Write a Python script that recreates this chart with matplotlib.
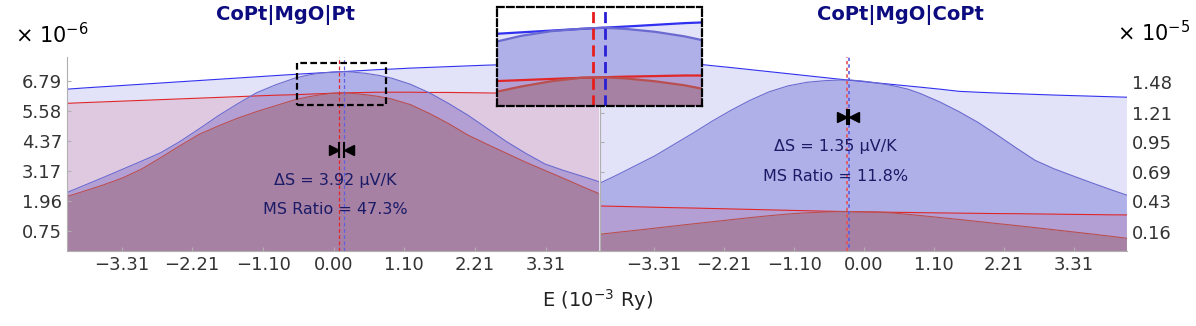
import matplotlib
matplotlib.use("Agg")
import matplotlib.pyplot as plt
from matplotlib.patches import Rectangle
from matplotlib import transforms

plt.rcParams["font.family"] = ["DejaVu Sans"]

# energy grid, 10^-3 Ry (same for both panels)
energy = [-4.17, -3.9, -3.6, -3.3, -3.0, -2.7, -2.4, -2.1, -1.8, -1.5, -1.2, -0.9, -0.6, -0.4,
          -0.2, 0.0, 0.15, 0.3, 0.5, 0.7, 0.9, 1.2, 1.5, 1.8, 2.1, 2.4, 2.7, 3.0, 3.3, 3.6,
          3.9, 4.14]

# CoPt|MgO|Pt, units of 1e-6
pt_blue_flat = [6.46, 6.51, 6.56, 6.61, 6.66, 6.71, 6.76, 6.81, 6.86, 6.91, 6.96, 7.01, 7.06, 7.09,
                7.12, 7.15, 7.17, 7.19, 7.22, 7.25, 7.27, 7.31, 7.34, 7.37, 7.40, 7.43, 7.45, 7.47,
                7.48, 7.49, 7.50, 7.50]
pt_red_flat = [5.89, 5.92, 5.95, 5.98, 6.01, 6.04, 6.07, 6.10, 6.13, 6.16, 6.19, 6.22, 6.24, 6.26,
               6.28, 6.30, 6.31, 6.32, 6.33, 6.34, 6.34, 6.34, 6.33, 6.33, 6.32, 6.31, 6.30, 6.30,
               6.30, 6.29, 6.29, 6.29]
pt_blue_peak = [2.29, 2.58, 2.90, 3.23, 3.56, 3.90, 4.35, 4.86, 5.39, 5.87, 6.32, 6.64, 6.91, 7.03,
                7.11, 7.15, 7.17, 7.15, 7.10, 7.02, 6.91, 6.66, 6.31, 5.88, 5.41, 4.88, 4.35, 3.88,
                3.45, 3.18, 2.94, 2.74]
pt_red_peak = [2.13, 2.35, 2.60, 2.88, 3.24, 3.70, 4.18, 4.64, 4.98, 5.29, 5.56, 5.80, 6.04, 6.15,
               6.24, 6.30, 6.31, 6.29, 6.24, 6.17, 6.07, 5.84, 5.48, 5.07, 4.61, 4.24, 3.88, 3.52,
               3.19, 2.86, 2.52, 2.26]

# CoPt|MgO|CoPt, units of 1e-5
copt_blue_flat = [1.72, 1.71, 1.69, 1.68, 1.66, 1.645, 1.627, 1.61, 1.592, 1.574, 1.556, 1.538, 1.52,
                  1.508, 1.497, 1.486, 1.477, 1.469, 1.458, 1.447, 1.436, 1.419, 1.40, 1.392, 1.385,
                  1.379, 1.373, 1.367, 1.362, 1.357, 1.352, 1.348]
copt_red_flat = [0.387, 0.384, 0.380, 0.376, 0.372, 0.369, 0.365, 0.361, 0.357, 0.353, 0.349, 0.345,
                 0.341, 0.339, 0.337, 0.335, 0.334, 0.333, 0.331, 0.330, 0.328, 0.326, 0.324, 0.322,
                 0.320, 0.319, 0.317, 0.315, 0.313, 0.311, 0.309, 0.308]
copt_blue_peak = [0.588, 0.66, 0.745, 0.83, 0.93, 1.03, 1.135, 1.232, 1.32, 1.395, 1.448, 1.480, 1.495,
                  1.499, 1.499, 1.489, 1.478, 1.465, 1.445, 1.418, 1.378, 1.305, 1.22, 1.125, 1.015,
                  0.90, 0.79, 0.715, 0.652, 0.59, 0.53, 0.484]
copt_red_peak = [0.137, 0.154, 0.172, 0.191, 0.210, 0.229, 0.247, 0.266, 0.284, 0.301, 0.316, 0.327,
                 0.334, 0.337, 0.338, 0.336, 0.334, 0.330, 0.323, 0.313, 0.302, 0.285, 0.268, 0.250,
                 0.232, 0.214, 0.196, 0.177, 0.158, 0.139, 0.119, 0.102]

xticks = [-3.31, -2.21, -1.10, 0.00, 1.10, 2.21, 3.31]
pt_yticks = [0.75, 1.96, 3.17, 4.37, 5.58, 6.79]
copt_yticks = [0.16, 0.43, 0.69, 0.95, 1.21, 1.48]

pt_peaks = [0.086, 0.164]        # red, blue
copt_peaks = [-0.27, -0.235]
pt_notes = ["\u0394S = 3.92 \u03bcV/K", "MS Ratio = 47.3%"]
copt_notes = ["\u0394S = 1.35 \u03bcV/K", "MS Ratio = 11.8%"]

navy = "#0c0c80"
txt = "#1a1a66"
gray = "#b0b0b0"


def draw(ax, bf, rf, bp, rp, lw):
    ax.fill_between(energy, -1, bf, color=(0.24, 0.24, 0.82), alpha=0.15, lw=0)
    ax.fill_between(energy, -1, bp, color=(0.24, 0.24, 0.78), alpha=0.3, lw=0)
    ax.fill_between(energy, -1, rf, color=(0.82, 0.25, 0.39), alpha=0.15, lw=0)
    ax.fill_between(energy, -1, rp, color=(0.54, 0.24, 0.20), alpha=0.3, lw=0)
    ax.plot(energy, bf, color="#3030f0", lw=lw)
    ax.plot(energy, rf, color="#e02626", lw=lw)
    ax.plot(energy, bp, color="#6a6ad0", lw=lw)
    ax.plot(energy, rp, color="#b85050", lw=lw)


def marker(ax, xs, y):
    lo, hi = min(xs), max(xs)
    ax.plot([lo, hi], [y, y], ls="none", marker="|", ms=11, mew=1.5, color="k", zorder=6)
    left = transforms.offset_copy(ax.transData, fig=fig, x=-3.4, units="points")
    right = transforms.offset_copy(ax.transData, fig=fig, x=3.4, units="points")
    ax.plot([lo], [y], marker=">", ms=7, color="k", transform=left, zorder=6)
    ax.plot([hi], [y], marker="<", ms=7, color="k", transform=right, zorder=6)


def style(ax):
    for s in ["top", "right"]:
        ax.spines[s].set_visible(False)
    for s in ["left", "bottom"]:
        ax.spines[s].set_color(gray)
        ax.spines[s].set_linewidth(0.8)
    ax.tick_params(direction="in", length=3, color=gray, labelcolor="#333333", labelsize=13)
    ax.set_xticks(xticks)
    ax.set_xticklabels([f"{t:.2f}".replace("-", "\u2212") for t in xticks])
    ax.set_xlim(-4.165, 4.145)


fig = plt.figure(figsize=(11.96, 3.26), dpi=100)

ax1 = fig.add_axes([0.0558, 0.2301, 0.4451, 0.5960])
draw(ax1, pt_blue_flat, pt_red_flat, pt_blue_peak, pt_red_peak, 0.8)
style(ax1)
ax1.set_ylim(-0.055, 7.77)
ax1.set_yticks(pt_yticks)
ax1.set_yticklabels([f"{t:.2f}" for t in pt_yticks])
ax1.axvline(pt_peaks[0], color="#e02626", lw=0.9, ls=(0, (3, 2)))
ax1.axvline(pt_peaks[1], color="#6060e0", lw=0.9, ls=(0, (3, 2)))
marker(ax1, pt_peaks, 4.01)
ax1.text(0.02, 2.80, pt_notes[0], ha="center", va="center", fontsize=11.5, color=txt)
ax1.text(0.02, 1.60, pt_notes[1], ha="center", va="center", fontsize=11.5, color=txt)

# zoom window
zx = (-0.567, 0.82)
zy = (5.81, 7.535)
ax1.add_patch(Rectangle((zx[0], zy[0]), zx[1] - zx[0], zy[1] - zy[0], fill=False,
                        ec="k", lw=1.6, ls=(0, (3, 1.5)), zorder=7))

ax2 = fig.add_axes([0.5017, 0.2301, 0.4404, 0.5960])
draw(ax2, copt_blue_flat, copt_red_flat, copt_blue_peak, copt_red_peak, 0.8)
style(ax2)
ax2.set_ylim(-0.0105, 1.706)
ax2.set_yticks(copt_yticks)
ax2.set_yticklabels([f"{t:.2f}" for t in copt_yticks])
ax2.tick_params(axis="y", left=True, right=False, labelleft=False, labelright=True)
ax2.axvline(copt_peaks[0], color="#e85050", lw=1.2, ls=(0, (2, 2)))
ax2.axvline(copt_peaks[1], color="#5a5ae0", lw=1.2, ls=(2, (2, 2)))
marker(ax2, copt_peaks, 1.176)
ax2.text(-0.456, 0.911, copt_notes[0], ha="center", va="center", fontsize=11.5, color=txt)
ax2.text(-0.456, 0.646, copt_notes[1], ha="center", va="center", fontsize=11.5, color=txt)

# inset
ax3 = fig.add_axes([0.4153, 0.6748, 0.1719, 0.3046])
ax3.set_facecolor("white")
draw(ax3, pt_blue_flat, pt_red_flat, pt_blue_peak, pt_red_peak, 1.6)
ax3.axvline(pt_peaks[0], color="#e81c1c", lw=2, ls=(0, (4, 2)))
ax3.axvline(pt_peaks[1], color="#2a1fd6", lw=2, ls=(0, (4, 2)))
ax3.set_xlim(*zx)
ax3.set_ylim(*zy)
ax3.set_xticks([])
ax3.set_yticks([])
for s in ax3.spines.values():
    s.set_linestyle((0, (3, 1.5)))
    s.set_linewidth(1.6)
    s.set_color("k")

fig.text(0.239, 0.954, "CoPt|MgO|Pt", ha="center", va="center", fontsize=14,
         fontweight="bold", color=navy)
fig.text(0.753, 0.954, "CoPt|MgO|CoPt", ha="center", va="center", fontsize=14,
         fontweight="bold", color=navy)
fig.text(0.0125, 0.893, r"$\times$ 10$^{-6}$", ha="left", va="center", fontsize=15)
fig.text(0.934, 0.899, r"$\times$ 10$^{-5}$", ha="left", va="center", fontsize=15)
fig.text(0.5, 0.08, r"E (10$^{-3}$ Ry)", ha="center", va="center", fontsize=14, color="#222222")

fig.savefig("out.png", dpi=100)
